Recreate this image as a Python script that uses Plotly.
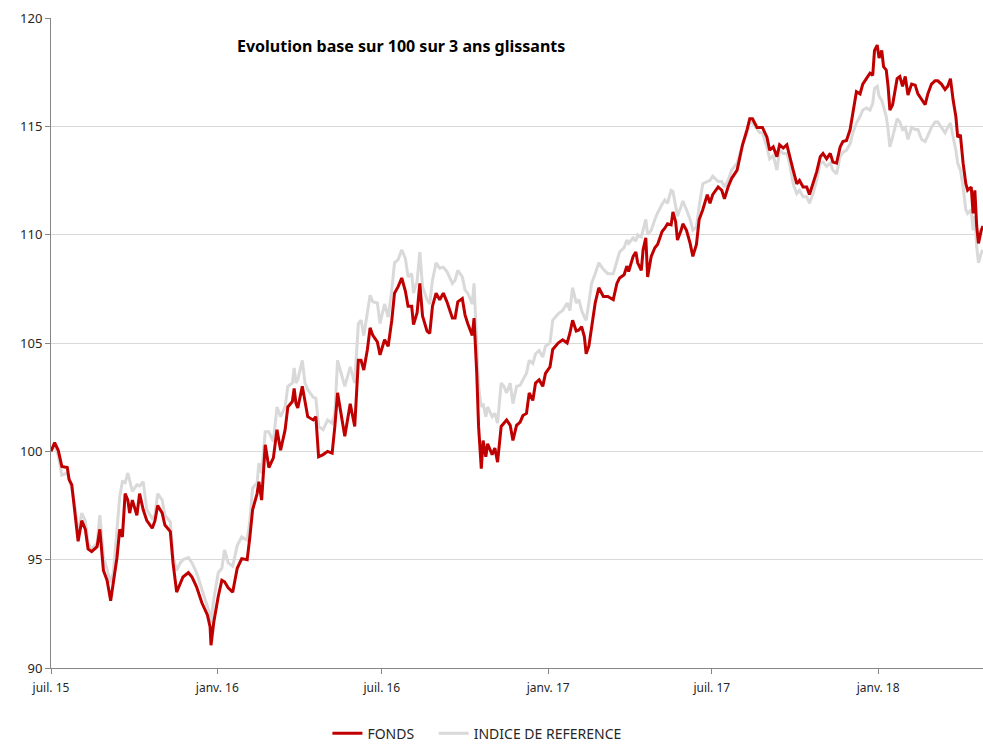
import pandas as pd
import plotly.graph_objects as go

start_date = "2015-07-01"

# observation dates, as days since the start date
day_offsets = [
    0, 4, 8, 12, 18, 20, 23, 27, 30, 34, 38, 41, 45, 51, 54, 58, 62, 66, 69, 73,
    76, 79, 82, 85, 87, 90, 95, 98, 102, 106, 112, 115, 118, 123, 126, 132, 135, 139, 143, 146,
    152, 156, 161, 167, 173, 176, 177,
    180, 185, 189, 192, 196, 201, 206, 211, 217, 220, 223, 228, 230, 233, 237, 241, 246, 250, 254, 259,
    262, 267, 269, 271, 273, 278, 281, 284, 290, 293, 296, 301, 306, 311, 314, 317, 322, 325, 331, 336,
    340, 343, 346, 350, 353, 356, 361,
    364, 369, 373, 377, 380, 384, 388, 392, 395, 399, 401, 405, 408, 411, 416, 419, 422, 426, 430, 434,
    438, 444, 447, 450, 455, 458, 461, 466, 468, 471, 473, 476, 478, 481, 483, 488, 491, 494, 498, 501,
    504, 508, 511, 515, 519, 522, 526, 529, 533, 536, 540, 544, 547,
    552, 555, 561, 566, 571, 574, 577, 581, 584, 587, 590, 592, 595, 598, 602, 606, 611, 616, 622, 626,
    629, 634, 637, 639, 644, 647, 649, 653, 655, 658, 660, 664, 668, 671, 676, 679, 682, 686, 688, 691,
    693, 697, 699, 703, 707, 710, 714, 717,
    721, 726, 729, 732, 738, 742, 745, 749, 753, 759, 762, 765, 770, 773, 776, 781, 784, 787, 792, 795,
    799, 803, 806, 810, 814, 817, 821, 825, 828, 832, 836, 839, 843, 847, 851, 854, 858, 862, 865, 869,
    873, 876, 880, 884, 887, 891, 895, 898, 902, 906, 909, 911, 914, 916, 919, 921, 924, 926, 928, 931,
    936, 939, 942, 945, 948, 952, 956, 959, 963, 967, 970, 974, 978, 981, 985, 989, 992, 995, 998, 1001,
    1003, 1006, 1009, 1012, 1014, 1018, 1020, 1022, 1024, 1026, 1029, 1031,
]

fonds = [
    100.0, 100.4, 100.05, 99.3, 99.25, 98.7, 98.45, 97.0, 95.85, 96.8, 96.4, 95.5, 95.37, 95.6, 96.4, 94.5, 94.05, 93.1, 93.9, 95.1,
    96.4, 96.05, 98.05, 97.75, 97.15, 97.75, 97.05, 98.05, 97.3, 96.8, 96.45, 96.8, 97.5, 97.15, 96.6, 96.3, 94.85, 93.5, 93.9, 94.2,
    94.4, 94.2, 93.75, 93.0, 92.45, 91.9, 91.05,
    92.1, 93.3, 94.05, 93.98, 93.7, 93.5, 94.6, 95.05, 95.0, 96.05, 97.3, 98.05, 98.6, 97.75, 100.3, 99.25, 99.7, 101.0, 100.05, 101.0,
    102.05, 102.3, 102.9, 102.2, 102.0, 103.0, 102.35, 101.6, 101.45, 101.6, 99.75, 99.85, 100.0, 99.92, 101.15, 102.7, 101.45, 100.7, 102.2, 101.15,
    104.2, 104.2, 103.75, 104.7, 105.7, 105.35, 105.05,
    104.45, 105.15, 104.85, 106.05, 107.3, 107.6, 108.0, 107.4, 106.7, 106.7, 105.85, 106.4, 107.75, 106.25, 105.55, 105.45, 106.7, 107.3, 107.0, 107.3,
    106.9, 106.15, 106.15, 106.9, 107.05, 106.3, 105.9, 105.35, 106.15, 103.6, 101.15, 99.2, 100.5, 99.75, 100.35, 99.85, 100.15, 99.5, 101.15, 101.3,
    101.45, 101.2, 100.5, 101.2, 101.35, 101.65, 101.75, 102.7, 102.35, 103.15, 103.3, 103.0, 103.6,
    103.9, 104.7, 105.0, 105.15, 105.0, 105.45, 106.05, 105.55, 105.6, 105.75, 105.3, 104.5, 104.85, 105.75, 106.85, 107.55, 107.15, 107.15, 107.0, 107.75,
    108.0, 108.15, 108.55, 108.3, 109.0, 109.2, 108.7, 108.35, 109.3, 109.85, 108.05, 109.0, 109.4, 109.55, 110.15, 110.3, 110.5, 110.45, 111.05, 110.6,
    109.75, 110.2, 110.5, 110.2, 109.6, 109.0, 109.55, 110.7,
    111.15, 111.85, 111.45, 111.85, 112.2, 112.05, 111.65, 112.2, 112.6, 112.98, 113.6, 114.15, 114.85, 115.35, 115.35, 114.95, 114.95, 114.95, 114.5, 113.9,
    114.05, 113.6, 114.15, 114.0, 114.15, 113.6, 112.98, 112.35, 112.5, 112.2, 112.2, 111.85, 112.35, 112.9, 113.6, 113.75, 113.5, 113.75, 113.35, 113.3,
    114.05, 114.3, 114.35, 114.85, 115.6, 116.6, 116.5, 116.95, 117.2, 117.45, 117.35, 118.5, 118.75, 118.15, 118.5, 117.75, 117.6, 116.85, 115.75, 116.0,
    117.2, 117.3, 116.85, 117.3, 116.45, 116.95, 116.9, 116.5, 116.25, 116.0, 116.5, 116.95, 117.1, 117.1, 116.95, 116.7, 116.85, 117.2, 116.2, 115.45,
    114.5, 114.6, 113.3, 112.35, 112.05, 112.2, 110.98, 112.05, 110.4, 109.6, 110.2, 110.4,
]

indice = [
    100.0, 100.3, 99.8, 98.9, 99.0, 98.7, 98.3, 97.3, 96.2, 97.15, 96.8, 95.75, 95.5, 95.75, 97.05, 95.15, 94.5, 93.95, 94.4, 96.5,
    97.9, 98.6, 98.55, 99.0, 98.7, 98.15, 98.45, 98.4, 98.6, 97.3, 96.9, 97.05, 98.05, 97.75, 97.05, 96.75, 95.15, 94.5, 94.85, 95.0,
    95.1, 94.85, 94.4, 93.6, 92.8, 92.45, 92.1,
    93.15, 94.4, 94.6, 95.45, 94.85, 94.7, 95.65, 96.05, 95.9, 96.8, 98.3, 98.55, 99.45, 99.0, 100.9, 100.9, 100.45, 102.05, 101.6, 102.05,
    103.0, 103.15, 103.85, 103.15, 103.3, 104.2, 103.15, 102.85, 102.5, 102.45, 101.15, 101.0, 101.45, 101.3, 101.75, 104.2, 103.45, 103.0, 103.9, 103.15,
    105.9, 106.05, 105.35, 106.45, 107.2, 106.9, 106.85,
    105.9, 106.8, 106.2, 107.45, 108.7, 108.85, 109.3, 108.9, 108.05, 108.2, 107.3, 107.85, 109.2, 107.6, 107.0, 106.8, 107.9, 108.7, 108.45, 108.5,
    108.3, 107.75, 107.9, 108.35, 108.05, 107.45, 107.3, 106.8, 107.75, 105.15, 103.0, 102.05, 102.2, 101.6, 102.05, 101.6, 101.75, 101.3, 103.15, 103.0,
    102.7, 103.15, 102.2, 103.0, 103.05, 103.3, 103.6, 104.2, 104.05, 104.5, 104.65, 104.35, 104.85,
    105.0, 106.05, 106.35, 106.5, 106.85, 106.5, 107.55, 106.85, 107.0, 106.5, 106.2, 106.05, 106.85, 107.75, 108.2, 108.7, 108.4, 108.2, 108.2, 108.85,
    109.2, 109.4, 109.75, 109.6, 109.85, 109.7, 110.0, 109.9, 110.2, 110.7, 110.0, 110.2, 110.7, 111.0, 111.4, 111.6, 111.45, 112.05, 112.0, 111.3,
    110.85, 111.3, 111.55, 111.15, 110.7, 110.2, 110.35, 111.3,
    112.35, 112.45, 112.5, 112.7, 112.45, 112.45, 112.2, 112.5, 112.98, 113.3, 113.75, 114.15, 114.7, 115.2, 115.15, 114.85, 114.7, 114.7, 114.05, 113.5,
    113.65, 112.98, 113.9, 113.75, 113.75, 113.3, 112.35, 111.9, 112.05, 111.75, 111.75, 111.45, 111.9, 112.5, 113.3, 113.35, 113.15, 113.3, 112.98, 112.8,
    113.6, 113.8, 113.9, 114.2, 114.7, 115.15, 115.45, 115.75, 115.85, 115.75, 116.05, 116.75, 116.85, 116.4, 116.2, 115.9, 115.45, 114.85, 114.05, 114.5,
    115.35, 115.2, 114.85, 114.95, 114.4, 114.95, 114.85, 114.85, 114.4, 114.3, 114.6, 114.95, 115.2, 115.2, 114.95, 114.7, 114.95, 115.15, 114.5, 113.9,
    113.3, 112.98, 112.2, 111.15, 110.98, 111.15, 110.2, 110.85, 109.45, 108.7, 109.15, 109.3,
]

tick_dates = ["2015-07-01", "2016-01-01", "2016-07-01", "2017-01-01", "2017-07-01", "2018-01-01"]
tick_labels = ["juil. 15", "janv. 16", "juil. 16", "janv. 17", "juil. 17", "janv. 18"]
y_ticks = [90, 95, 100, 105, 110, 115, 120]

title_text = "Evolution base sur 100 sur 3 ans glissants"
series_names = ["FONDS", "INDICE DE REFERENCE"]

dates = pd.to_datetime(start_date) + pd.to_timedelta(day_offsets, unit="D")

fig = go.Figure()
fig.add_trace(go.Scatter(
    x=dates, y=indice, mode="lines", name=series_names[1],
    line=dict(color="#D9D9D9", width=3), legendrank=2,
))
fig.add_trace(go.Scatter(
    x=dates, y=fonds, mode="lines", name=series_names[0] + "\u00a0\u00a0\u00a0\u00a0",
    line=dict(color="#C00000", width=3), legendrank=1,
))

font_family = "Noto Sans"
fig.update_layout(
    width=983, height=745,
    margin=dict(l=51, r=0, t=18, b=77, autoexpand=False),
    paper_bgcolor="white", plot_bgcolor="white",
    font=dict(family=font_family, size=12, color="#262626"),
    showlegend=True,
    legend=dict(orientation="h", x=0.457, xanchor="center", y=-0.101, yanchor="middle",
                font=dict(size=14, color="#262626"), itemwidth=30, tracegroupgap=0),
    annotations=[dict(text="<b>" + title_text + "</b>", xref="paper", yref="paper",
                      x=0.3755, y=0.957, xanchor="center", yanchor="middle",
                      showarrow=False, font=dict(size=16, color="black", family=font_family))],
)
fig.update_xaxes(
    type="date", automargin=False,
    range=[pd.to_datetime(start_date), dates[-1]],
    tickvals=pd.to_datetime(tick_dates), ticktext=tick_labels,
    ticks="outside", ticklen=5, tickcolor="#868686", ticklabelstandoff=4,
    showline=True, linecolor="#868686", linewidth=1,
    showgrid=False, zeroline=False,
    tickfont=dict(size=12, color="#262626"),
)
fig.update_yaxes(
    range=[90, 120], tickvals=y_ticks, automargin=False,
    ticks="outside", ticklen=5, tickcolor="#868686",
    showline=True, linecolor="#868686", linewidth=1,
    showgrid=True, gridcolor="#D9D9D9", gridwidth=1, zeroline=False,
    tickfont=dict(size=13, color="#262626"),
)

# remove the page's default body margin so the figure fills the window exactly
fig.write_html("out.html", config={"displayModeBar": False},
               post_script="document.body.style.margin='0';document.body.style.overflow='hidden';")
